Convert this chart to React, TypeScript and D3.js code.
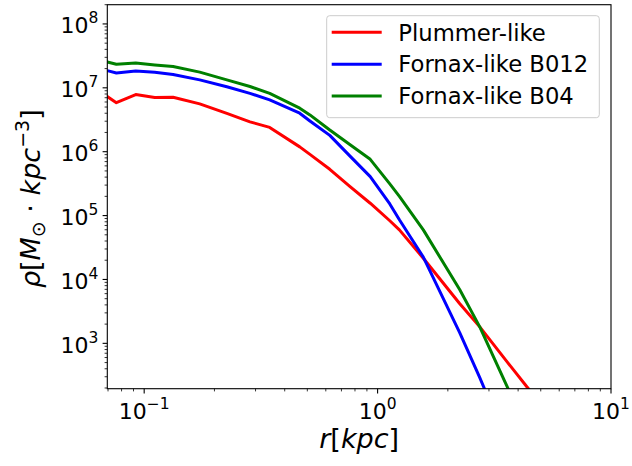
import React from "react";
import * as d3 from "d3";

const radius = [0.0695, 0.076, 0.092, 0.111, 0.133, 0.173, 0.226, 0.284, 0.345, 0.464, 0.513, 0.624, 0.76, 0.93, 1.128, 1.24, 1.57, 2.25, 2.74, 3.61, 4.36, 5.5];
const plummer = [7.28e6, 5.86e6, 7.83e6, 7.03e6, 7.13e6, 5.6e6, 3.97e6, 2.93e6, 2.4e6, 1.19e6, 9.08e5, 5.3e5, 2.87e5, 1.56e5, 8.3e4, 5.97e4, 2.15e4, 4.17e3, 1.81e3, 500, 209, 75];
const fornaxB012 = [1.86e7, 1.71e7, 1.84e7, 1.75e7, 1.62e7, 1.33e7, 1.04e7, 8.2e6, 6.47e6, 4.0e6, 3.03e6, 1.8e6, 8.6e5, 4.07e5, 1.52e5, 8.6e4, 2.24e4, 1.46e3, 290, 27, 5, 1];
const fornaxB04 = [2.54e7, 2.34e7, 2.45e7, 2.28e7, 2.15e7, 1.76e7, 1.33e7, 1.05e7, 8.2e6, 4.8e6, 3.77e6, 2.19e6, 1.3e6, 7.6e5, 3.13e5, 2.0e5, 5.97e4, 6.9e3, 1.81e3, 200, 48, 10];

const seriesNames = ["Plummer-like", "Fornax-like B012", "Fornax-like B04"];
const seriesColors = ["#ff0000", "#0000ff", "#008000"];
const seriesValues = [plummer, fornaxB012, fornaxB04];

const xMajorExps = [-1, 0, 1];
const yMajorExps = [3, 4, 5, 6, 7, 8];

const FONT = "DejaVu Sans, sans-serif";

export default function App() {
  const W = 632, H = 466;
  const L = 107.3, R = 611, T = 4.7, B = 388.7;
  const x = d3.scaleLog().domain([0.0695, 10]).range([L, R]);
  const y = d3.scaleLog().domain([195, 2e8]).range([B, T]);

  const line = d3.line<[number, number]>().x(d => x(d[0])).y(d => y(d[1]));

  const xMinor: number[] = [];
  for (let e = -2; e <= 0; e++) for (let m = 2; m <= 9; m++) {
    const v = m * Math.pow(10, e);
    if (v >= 0.0695 && v <= 10) xMinor.push(v);
  }
  const yMinor: number[] = [];
  for (let e = 2; e <= 8; e++) for (let m = 2; m <= 9; m++) {
    const v = m * Math.pow(10, e);
    if (v >= 195 && v <= 2e8) yMinor.push(v);
  }

  const legX = 326.7, legY = 15.7, legW = 272.6, legH = 102;

  return (
    <svg width={W} height={H} style={{ position: "absolute", left: 0, top: 0, background: "#fff" }} fontFamily={FONT}>
      <defs>
        <clipPath id="plotclip">
          <rect x={L} y={T} width={R - L} height={B - T} />
        </clipPath>
      </defs>
      <rect x={0} y={0} width={W} height={H} fill="#fff" />
      <g clipPath="url(#plotclip)">
        {seriesValues.map((vals, i) => (
          <path key={i} d={line(radius.map((r, j) => [r, vals[j]] as [number, number])) || ""}
            fill="none" stroke={seriesColors[i]} strokeWidth={3} strokeLinejoin="round" strokeLinecap="square" />
        ))}
      </g>
      {/* frame */}
      <rect x={L} y={T} width={R - L} height={B - T} fill="none" stroke="#000" strokeWidth={1.1} />
      {/* x ticks */}
      {xMajorExps.map(e => (
        <g key={"xm" + e}>
          <line x1={x(Math.pow(10, e))} x2={x(Math.pow(10, e))} y1={B} y2={B + 4.7} stroke="#000" strokeWidth={1.1} />
          <text x={x(Math.pow(10, e))} y={B + 30} textAnchor="middle" fontSize={22} fill="#000">
            <tspan>10</tspan><tspan dy={-10} fontSize={15.5}>{e < 0 ? "\u2212" + Math.abs(e) : String(e)}</tspan>
          </text>
        </g>
      ))}
      {xMinor.map((v, i) => (
        <line key={"xn" + i} x1={x(v)} x2={x(v)} y1={B} y2={B + 2.7} stroke="#000" strokeWidth={0.8} />
      ))}
      {/* y ticks */}
      {yMajorExps.map(e => (
        <g key={"ym" + e}>
          <line x1={L} x2={L - 4.7} y1={y(Math.pow(10, e))} y2={y(Math.pow(10, e))} stroke="#000" strokeWidth={1.1} />
          <text x={L - 9} y={y(Math.pow(10, e)) + 9.5} textAnchor="end" fontSize={22} fill="#000">
            <tspan>10</tspan><tspan dy={-10} fontSize={15.5}>{String(e)}</tspan>
          </text>
        </g>
      ))}
      {yMinor.map((v, i) => (
        <line key={"yn" + i} x1={L} x2={L - 2.7} y1={y(v)} y2={y(v)} stroke="#000" strokeWidth={0.8} />
      ))}
      {/* axis labels */}
      <text x={(L + R) / 2} y={448} textAnchor="middle" fontSize={27} fill="#000">
        <tspan fontStyle="italic">r</tspan><tspan>[</tspan><tspan fontStyle="italic">kpc</tspan><tspan>]</tspan>
      </text>
      <text transform={`translate(40, ${(T + B) / 2 + 2}) rotate(-90)`} textAnchor="middle" fontSize={27} fill="#000">
        <tspan fontStyle="italic">ρ</tspan><tspan>[</tspan><tspan fontStyle="italic">M</tspan>
        <tspan dy={5} fontSize={19}>⊙</tspan><tspan dy={-5}> · </tspan>
        <tspan fontStyle="italic">kpc</tspan><tspan dy={-11} fontSize={19}>−3</tspan><tspan dy={11}>]</tspan>
      </text>
      {/* legend */}
      <rect x={legX} y={legY} width={legW} height={legH} rx={3} fill="#fff" fillOpacity={0.8} stroke="#cccccc" strokeWidth={1} />
      {seriesNames.map((name, i) => {
        const ly = 32.3 + i * 31.85;
        return (
          <g key={name}>
            <line x1={331.7} x2={381.7} y1={ly} y2={ly} stroke={seriesColors[i]} strokeWidth={3} />
            <text x={398.3} y={ly + 8.3} fontSize={22.7} fill="#000">{name}</text>
          </g>
        );
      })}
    </svg>
  );
}
